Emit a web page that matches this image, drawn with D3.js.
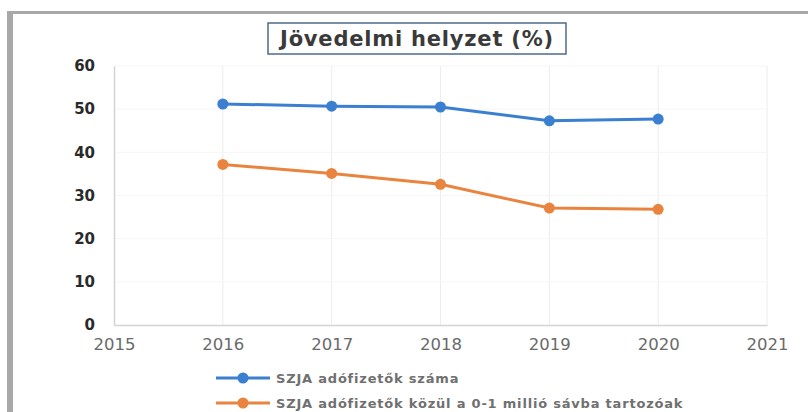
<!DOCTYPE html>
<html><head><meta charset="utf-8">
<script src="https://cdn.jsdelivr.net/npm/d3@7"></script>
<style>body{margin:0;background:#fff}svg{display:block}</style>
</head><body>
<svg id="c" width="808" height="412"></svg>
<script>
const years = [2016, 2017, 2018, 2019, 2020];
const szjaAll = [51.2, 50.7, 50.5, 47.3, 47.7];
const szjaLow = [37.2, 35.1, 32.6, 27.1, 26.8];
const xTicks = [2015, 2016, 2017, 2018, 2019, 2020, 2021];
const yTicks = [0, 10, 20, 30, 40, 50, 60];
const seriesNames = ["SZJA adófizetők száma", "SZJA adófizetők közül a 0-1 millió sávba tartozóak"];
const title = "Jövedelmi helyzet (%)";

const svg = d3.select("#c");
const colors = ["#3a7fd0", "#e9843f"];

// frame
svg.append("rect").attr("x",7).attr("y",11).attr("width",6).attr("height",401).attr("fill","#a8a8a8");
svg.append("rect").attr("x",7).attr("y",11).attr("width",801).attr("height",3).attr("fill","#a8a8a8");

const x = d3.scaleLinear().domain([2015, 2021]).range([114, 767]);
const y = d3.scaleLinear().domain([0, 60]).range([325, 66]);

// gridlines
svg.append("g").selectAll("line").data(xTicks.slice(1)).join("line")
  .attr("x1", d=>x(d)).attr("x2", d=>x(d)).attr("y1", y(60)).attr("y2", y(0))
  .attr("stroke","#ececec").attr("stroke-width",1);
svg.append("g").selectAll("line").data(yTicks.slice(1)).join("line")
  .attr("x1", x(2015)).attr("x2", x(2021)).attr("y1", d=>y(d)).attr("y2", d=>y(d))
  .attr("stroke","#f6f6f6").attr("stroke-width",1);

// axes
const yAxis = svg.append("g").attr("transform", `translate(${x(2015)},0)`)
  .call(d3.axisLeft(y).tickValues(yTicks).tickSize(0).tickPadding(19));
yAxis.select(".domain").attr("stroke","#d4d4d4").attr("stroke-width",1.5);
yAxis.selectAll("text").attr("font-family","Verdana, 'DejaVu Sans', sans-serif")
  .attr("font-size",15).attr("font-weight","bold").attr("fill","#2a2a2a");

const xAxis = svg.append("g").attr("transform", `translate(0,${y(0)})`)
  .call(d3.axisBottom(x).tickValues(xTicks).tickFormat(d3.format("d")).tickSize(0).tickPadding(13));
xAxis.select(".domain").attr("stroke","#d4d4d4").attr("stroke-width",1.5);
xAxis.selectAll("text").attr("font-family","Verdana, 'DejaVu Sans', sans-serif")
  .attr("font-size",16.5).attr("fill","#6a6a6a");

// title
svg.append("rect").attr("x",268).attr("y",23).attr("width",298).attr("height",31)
  .attr("fill","#fff").attr("stroke","#4d6b8c").attr("stroke-width",1.5);
svg.append("text").attr("x",417).attr("y",46).attr("text-anchor","middle")
  .attr("font-family","Verdana, 'DejaVu Sans', sans-serif").attr("font-size",21)
  .attr("font-weight","bold").attr("letter-spacing",0.8).attr("fill","#3a3a3a").text(title);

// series
const line = d3.line().x((d,i)=>x(years[i])).y(d=>y(d));
[szjaAll, szjaLow].forEach((vals, k) => {
  svg.append("path").datum(vals).attr("d", line).attr("fill","none")
    .attr("stroke", colors[k]).attr("stroke-width",3);
  svg.append("g").selectAll("circle").data(vals).join("circle")
    .attr("cx",(d,i)=>x(years[i])).attr("cy",d=>y(d)).attr("r",5.5).attr("fill",colors[k]);
});

// legend
const lg = svg.append("g");
seriesNames.forEach((name, k) => {
  const ly = 378 + k*25;
  lg.append("line").attr("x1",216).attr("x2",270).attr("y1",ly).attr("y2",ly)
    .attr("stroke",colors[k]).attr("stroke-width",3);
  lg.append("circle").attr("cx",243).attr("cy",ly).attr("r",5.5).attr("fill",colors[k]);
  lg.append("text").attr("x",276).attr("y",ly+4.5).attr("font-family","Verdana, 'DejaVu Sans', sans-serif")
    .attr("font-size",13).attr("font-weight","bold").attr("letter-spacing",0.8)
    .attr("fill","#707070").text(name);
});
</script>
</body></html>
